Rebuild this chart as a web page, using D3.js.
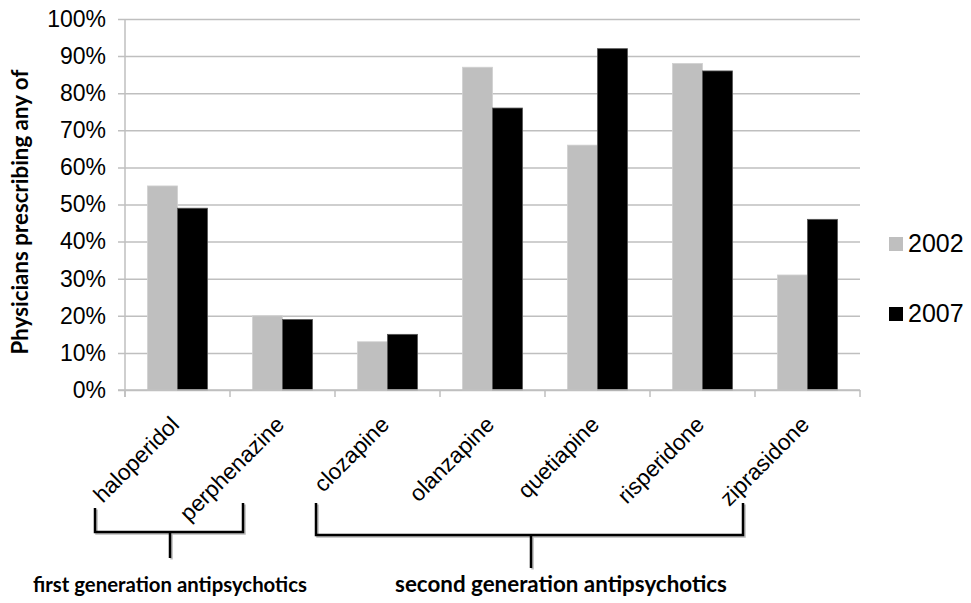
<!DOCTYPE html>
<html>
<head>
<meta charset="utf-8">
<script src="https://cdn.jsdelivr.net/npm/d3@7"></script>
<style>
  body { margin: 0; background: #fff; }
  svg { display: block; }
</style>
</head>
<body>
<div id="chart"></div>
<script>
const drugs = ["haloperidol", "perphenazine", "clozapine", "olanzapine", "quetiapine", "risperidone", "ziprasidone"];
const years = ["2002", "2007"];
const values2002 = [0.55, 0.20, 0.13, 0.87, 0.66, 0.88, 0.31];
const values2007 = [0.49, 0.19, 0.15, 0.76, 0.92, 0.86, 0.46];
const yTicks = [0, 0.1, 0.2, 0.3, 0.4, 0.5, 0.6, 0.7, 0.8, 0.9, 1.0];
const groups = [
  { label: "first generation antipsychotics", from: "haloperidol", to: "perphenazine" },
  { label: "second generation antipsychotics", from: "clozapine", to: "ziprasidone" }
];

const W = 971, H = 603;
const gray = "#bfbfbf";
const sans = "'Liberation Sans', Arial, sans-serif";
const boldFont = "Lato, 'Open Sans', sans-serif";

const svg = d3.select("#chart").append("svg")
  .attr("width", W).attr("height", H);

const x = d3.scaleBand().domain(drugs).range([125, 860]);
const x1 = d3.scaleBand().domain(years).range([22.5, 82.5]);
const y = d3.scaleLinear().domain([0, 1]).range([390, 19]);
const color = d3.scaleOrdinal().domain(years).range([gray, "#000"]);

const rows = drugs.map((d, i) => ({ drug: d, v: [values2002[i], values2007[i]] }));

// y axis with gridlines
const yAxis = svg.append("g")
  .attr("transform", "translate(118,0)")
  .call(d3.axisLeft(y).tickValues(yTicks).tickFormat(d3.format(".0%"))
    .tickSizeInner(-(860 - 118)).tickSizeOuter(0).tickPadding(12));
yAxis.select(".domain").remove();
yAxis.selectAll(".tick line").attr("stroke", gray).attr("stroke-width", 1.5);
yAxis.selectAll(".tick text")
  .attr("font-family", sans).attr("font-size", 23).attr("fill", "#000");

// vertical axis line
svg.append("line")
  .attr("x1", 125).attr("x2", 125).attr("y1", y(1)).attr("y2", 397)
  .attr("stroke", gray).attr("stroke-width", 1.5);

// bars
const grp = svg.selectAll(".grp").data(rows).enter().append("g")
  .attr("class", "grp")
  .attr("transform", (d) => "translate(" + x(d.drug) + ",0)");
grp.selectAll("rect")
  .data((d) => years.map((yr, k) => ({ yr: yr, v: d.v[k] })))
  .enter().append("rect")
  .attr("x", (d) => x1(d.yr))
  .attr("width", x1.bandwidth())
  .attr("y", (d) => y(d.v))
  .attr("height", (d) => y(0) - y(d.v))
  .attr("fill", (d) => color(d.yr))
  .attr("stroke", (d) => d.yr === "2002" ? "#d0d0d0" : "#555")
  .attr("stroke-width", 0.8);

// x axis line and boundary ticks
svg.append("line")
  .attr("x1", 118).attr("x2", 860).attr("y1", y(0)).attr("y2", y(0))
  .attr("stroke", gray).attr("stroke-width", 1.5);
const bounds = drugs.map((d) => x(d)).concat([x.range()[1]]);
svg.selectAll(".xtick").data(bounds).enter().append("line")
  .attr("x1", (d) => d).attr("x2", (d) => d)
  .attr("y1", y(0)).attr("y2", y(0) + 7)
  .attr("stroke", gray).attr("stroke-width", 1.5);

// category labels
svg.selectAll(".xlab").data(drugs).enter().append("text")
  .attr("transform", (d) => "translate(" + (x(d) + x.bandwidth() / 2 + 3) + ",426) rotate(-45)")
  .attr("text-anchor", "end")
  .attr("font-family", sans).attr("font-size", 22.5)
  .text((d) => d);

// y title
svg.append("text")
  .attr("transform", "translate(28,212) rotate(-90)")
  .attr("text-anchor", "middle")
  .attr("font-family", boldFont).attr("font-weight", 700).attr("font-size", 20)
  .text("Physicians prescribing any of")
  .each(function () {
    const len = this.getComputedTextLength();
    d3.select(this).attr("font-size", 20 * 285 / len);
  });

// legend
const leg = svg.selectAll(".leg").data(years).enter().append("g")
  .attr("transform", (d, i) => "translate(889," + (237 + i * 70) + ")");
leg.append("rect").attr("width", 14).attr("height", 14).attr("fill", (d) => color(d));
leg.append("text").attr("x", 19).attr("y", 15)
  .attr("font-family", sans).attr("font-size", 25).text((d) => d);

// group brackets
const groupGeom = [
  { left: 95, right: 243, top: [508, 503], base: 532, stem: 558, cx: 170, tx: 170 },
  { left: 316, right: 743, top: [503, 503], base: 535, stem: 568, cx: 531, tx: 561 }
];
groups.forEach((g, i) => {
  const gm = groupGeom[i];
  const path = "M" + gm.left + "," + gm.top[0] + "V" + gm.base + "H" + gm.right + "V" + gm.top[1] +
    "M" + gm.cx + "," + gm.base + "V" + gm.stem;
  svg.append("path").attr("d", path).attr("fill", "none")
    .attr("stroke", "#bbb").attr("stroke-width", 2.5).attr("transform", "translate(1.5,1.5)");
  svg.append("path").attr("d", path).attr("fill", "none")
    .attr("stroke", "#000").attr("stroke-width", 2.5);
});
const targetW = [274, 332];
svg.selectAll(".glab").data(groups).enter().append("text")
  .attr("x", (d, i) => groupGeom[i].tx).attr("y", 592)
  .attr("text-anchor", "middle")
  .attr("font-family", boldFont).attr("font-weight", 700).attr("font-size", 20)
  .text((d) => d.label)
  .each(function (d, i) {
    const len = this.getComputedTextLength();
    d3.select(this).attr("font-size", 20 * targetW[i] / len);
  });
</script>
</body>
</html>
